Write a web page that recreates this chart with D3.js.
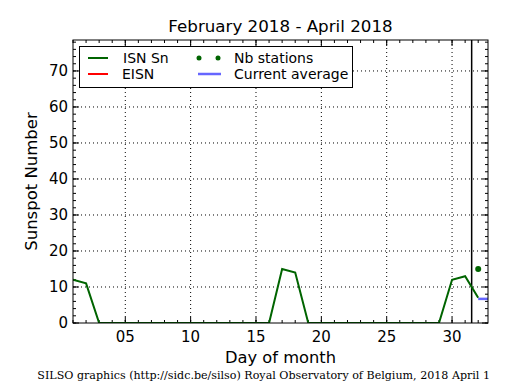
<!DOCTYPE html>
<html><head><meta charset="utf-8">
<script src="https://cdn.jsdelivr.net/npm/d3@7"></script>
<style>body{margin:0;background:#fff}svg{display:block}text{font-family:"DejaVu Sans",sans-serif}</style>
</head><body>
<script>
const days = [1,2,3,4,5,6,7,8,9,10,11,12,13,14,15,16,17,18,19,20,21,22,23,24,25,26,27,28,29,30,31,32];
const isn  = [12,11,0,0,0,0,0,0,0,0,0,0,0,0,0,0,15,14,0,0,0,0,0,0,0,0,0,0,0,12,13,7];
const stationDays = [32];
const stations = [15];
const avgDays = [32,32.75];
const avgValues = [6.7,6.7];
const xTicks = [5,10,15,20,25,30];
const xTickLabels = ["05","10","15","20","25","30"];
const yTicks = [0,10,20,30,40,50,60,70];
const monthSplit = 31.5;

const W=515,H=390, L=73,R=488,T=40,B=323;
const svg=d3.select("body").append("svg").attr("width",W).attr("height",H);
const x=d3.scaleLinear().domain([1,32.75]).range([L,R]);
const y=d3.scaleLinear().domain([0,78.6]).range([B,T]);

// grid
const g=svg.append("g");
xTicks.forEach(t=>g.append("line").attr("x1",x(t)).attr("x2",x(t)).attr("y1",T).attr("y2",B).attr("stroke","#000").attr("stroke-width",1).attr("stroke-dasharray","1,3"));
yTicks.slice(1).forEach(t=>g.append("line").attr("x1",L).attr("x2",R).attr("y1",y(t)).attr("y2",y(t)).attr("stroke","#000").attr("stroke-width",1).attr("stroke-dasharray","1,3"));

// minor ticks
const xMinor=d3.range(1,33), yMinor=d3.range(0,79,2);
xMinor.forEach(t=>{g.append("line").attr("x1",x(t)).attr("x2",x(t)).attr("y1",B).attr("y2",B-3).attr("stroke","#000");
 g.append("line").attr("x1",x(t)).attr("x2",x(t)).attr("y1",T).attr("y2",T+3).attr("stroke","#000");});
yMinor.forEach(t=>{g.append("line").attr("x1",L).attr("x2",L+3).attr("y1",y(t)).attr("y2",y(t)).attr("stroke","#000");
 g.append("line").attr("x1",R).attr("x2",R-3).attr("y1",y(t)).attr("y2",y(t)).attr("stroke","#000");});
xTicks.forEach(t=>{g.append("line").attr("x1",x(t)).attr("x2",x(t)).attr("y1",B).attr("y2",B-6).attr("stroke","#000");
 g.append("line").attr("x1",x(t)).attr("x2",x(t)).attr("y1",T).attr("y2",T+6).attr("stroke","#000");});
yTicks.forEach(t=>{g.append("line").attr("x1",L).attr("x2",L+6).attr("y1",y(t)).attr("y2",y(t)).attr("stroke","#000");
 g.append("line").attr("x1",R).attr("x2",R-6).attr("y1",y(t)).attr("y2",y(t)).attr("stroke","#000");});

// month split
svg.append("line").attr("x1",x(monthSplit)).attr("x2",x(monthSplit)).attr("y1",T).attr("y2",B).attr("stroke","#000").attr("stroke-width",1.5);

// data
const clip=svg.append("clipPath").attr("id","c").append("rect").attr("x",L).attr("y",T).attr("width",R-L).attr("height",B-T);
const line=d3.line().x((d,i)=>x(d[0])).y(d=>y(d[1]));
svg.append("path").attr("clip-path","url(#c)").attr("d",line(days.map((d,i)=>[d,isn[i]]))).attr("fill","none").attr("stroke","#006400").attr("stroke-width",2);
svg.append("path").attr("clip-path","url(#c)").attr("d",line(avgDays.map((d,i)=>[d,avgValues[i]]))).attr("fill","none").attr("stroke","#6666ff").attr("stroke-width",2.5);
stationDays.forEach((d,i)=>svg.append("circle").attr("cx",x(d)).attr("cy",y(stations[i])).attr("r",3).attr("fill","#006400"));

// frame
svg.append("rect").attr("x",L).attr("y",T).attr("width",R-L).attr("height",B-T).attr("fill","none").attr("stroke","#000").attr("stroke-width",1);

// tick labels
xTicks.forEach((t,i)=>svg.append("text").attr("x",x(t)).attr("y",B+19).attr("text-anchor","middle").attr("font-size",15).text(xTickLabels[i]));
yTicks.forEach(t=>svg.append("text").attr("x",L-5).attr("y",y(t)+5).attr("text-anchor","end").attr("font-size",15).text(t));

// titles
svg.append("text").attr("x",(L+R)/2).attr("y",32).attr("text-anchor","middle").attr("font-size",16.7).text("February 2018 - April 2018");
svg.append("text").attr("x",(L+R)/2).attr("y",363).attr("text-anchor","middle").attr("font-size",16.3).text("Day of month");
svg.append("text").attr("transform",`translate(37,${(T+B)/2}) rotate(-90)`).attr("text-anchor","middle").attr("font-size",16.5).text("Sunspot Number");
svg.append("text").attr("x",490).attr("y",379).attr("text-anchor","end").attr("font-size",11.1).style("font-family","'DejaVu Serif',serif").text("SILSO graphics (http://sidc.be/silso) Royal Observatory of Belgium, 2018 April 1");

// legend
const lg=svg.append("g");
lg.append("rect").attr("x",79.5).attr("y",46.5).attr("width",273).attr("height",41).attr("fill","#fff").attr("stroke","#000");
const r1=58, r2=74;
lg.append("line").attr("x1",88).attr("x2",108).attr("y1",r1).attr("y2",r1).attr("stroke","#006400").attr("stroke-width",2);
lg.append("line").attr("x1",88).attr("x2",108).attr("y1",r2).attr("y2",r2).attr("stroke","#ff0000").attr("stroke-width",2);
lg.append("circle").attr("cx",199).attr("cy",r1).attr("r",2.5).attr("fill","#006400");
lg.append("circle").attr("cx",218).attr("cy",r1).attr("r",2.5).attr("fill","#006400");
lg.append("line").attr("x1",198).attr("x2",221).attr("y1",r2).attr("y2",r2).attr("stroke","#6666ff").attr("stroke-width",2.5);
[["ISN Sn",123,r1],["EISN",122,r2],["Nb stations",234,r1],["Current average",234,r2]].forEach(d=>lg.append("text").attr("x",d[1]).attr("y",d[2]+5).attr("font-size",14).text(d[0]));
</script>
</body></html>
